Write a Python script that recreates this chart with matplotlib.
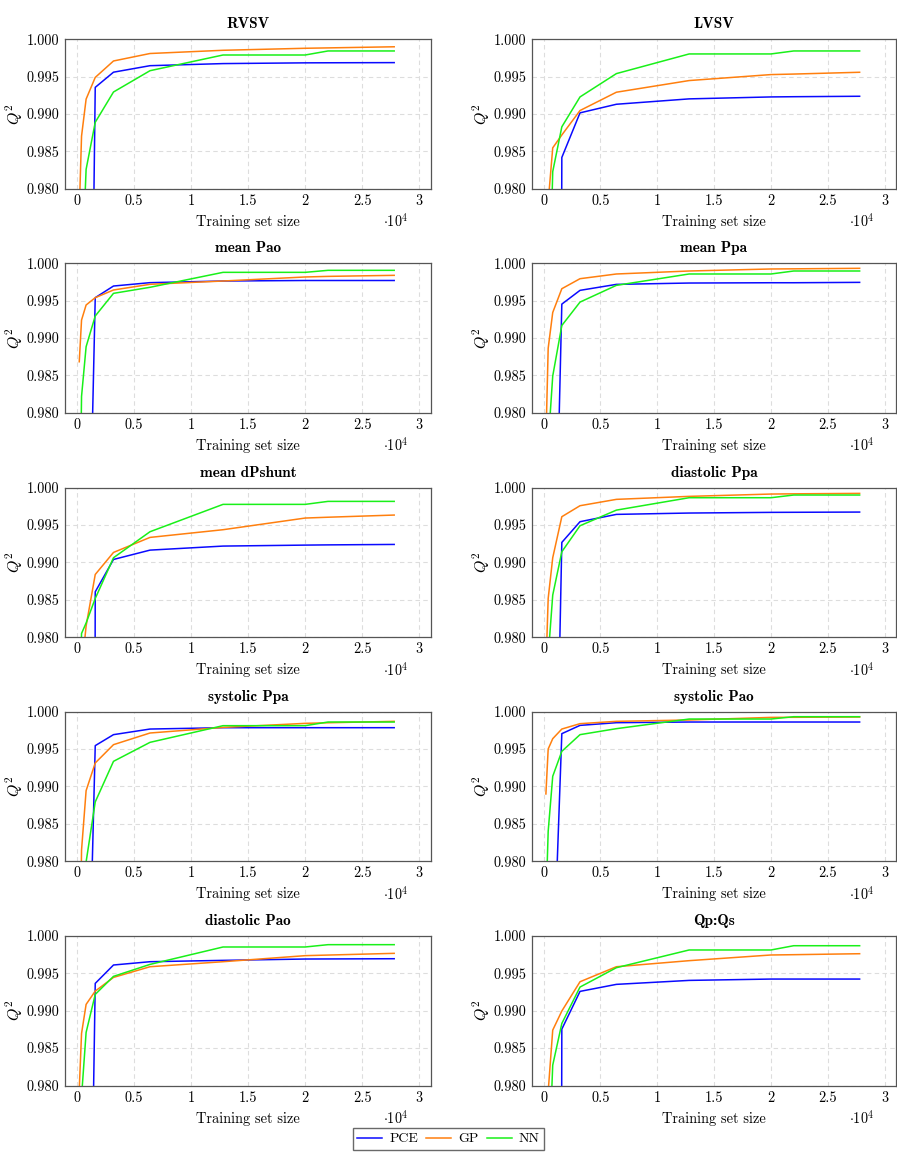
import matplotlib
matplotlib.use("Agg")
import matplotlib.pyplot as plt

plt.rcParams['font.family'] = ['cmr10', 'DejaVu Serif']
plt.rcParams['mathtext.fontset'] = 'cm'
plt.rcParams['axes.formatter.use_mathtext'] = True
plt.rcParams['font.size'] = 10.3

# training set sizes (shared by all panels)
train_sizes = [200, 400, 800, 1600, 3200, 6400, 12800, 20000, 22000, 27800]

titles = ["RVSV", "LVSV", "mean Pao", "mean Ppa", "mean dPshunt",
          "diastolic Ppa", "systolic Ppa", "systolic Pao", "diastolic Pao", "Qp:Qs"]

# Q^2 per panel, values below 0.980 are clipped by the axis
pce_q2 = [
    [0.50, 0.70, 0.895, 0.99357, 0.9956, 0.99647, 0.99675, 0.99685, 0.99686, 0.99688],
    [0.30, 0.40, 0.50, 0.98419, 0.99016, 0.99131, 0.99203, 0.99229, 0.99232, 0.99238],
    [0.60, 0.80, 0.941, 0.9954, 0.99696, 0.99741, 0.99763, 0.9977, 0.9977, 0.9977],
    [0.60, 0.80, 0.943, 0.99454, 0.99638, 0.99718, 0.99736, 0.9974, 0.9974, 0.99745],
    [0.20, 0.30, 0.40, 0.98607, 0.9904, 0.99165, 0.99219, 0.99232, 0.99235, 0.99241],
    [0.60, 0.80, 0.933, 0.99268, 0.99545, 0.99643, 0.99661, 0.9967, 0.99671, 0.99674],
    [0.60, 0.80, 0.947, 0.99546, 0.99693, 0.99768, 0.99786, 0.99786, 0.99786, 0.99786],
    [0.60, 0.80, 0.963, 0.99706, 0.99817, 0.99853, 0.99862, 0.99862, 0.99862, 0.99862],
    [0.60, 0.80, 0.916, 0.99366, 0.99612, 0.99656, 0.99674, 0.99692, 0.99693, 0.99696],
    [0.20, 0.30, 0.40, 0.98754, 0.99259, 0.99353, 0.99406, 0.99424, 0.99424, 0.99424],
]
gp_q2 = [
    [0.977, 0.98705, 0.9920, 0.9949, 0.9971, 0.9981, 0.99853, 0.9988, 0.99885, 0.9990],
    [0.95, 0.9782, 0.98548, 0.9872, 0.99047, 0.99292, 0.99448, 0.99528, 0.99535, 0.99559],
    [0.98683, 0.99241, 0.99442, 0.9954, 0.99643, 0.99719, 0.99763, 0.99817, 0.99825, 0.99839],
    [0.9763, 0.98863, 0.99342, 0.9966, 0.99794, 0.99857, 0.99897, 0.99924, 0.99926, 0.99933],
    [0.96, 0.9755, 0.9815, 0.98839, 0.99134, 0.99335, 0.99438, 0.99594, 0.99605, 0.99634],
    [0.97576, 0.98518, 0.99063, 0.99612, 0.99759, 0.99844, 0.99884, 0.99915, 0.99918, 0.99924],
    [0.96, 0.9815, 0.98944, 0.99314, 0.99559, 0.99715, 0.9979, 0.99844, 0.99852, 0.99871],
    [0.9890, 0.99501, 0.99639, 0.99768, 0.9984, 0.99871, 0.99889, 0.99924, 0.99925, 0.99929],
    [0.9795, 0.98696, 0.99085, 0.99263, 0.99446, 0.99589, 0.99656, 0.99737, 0.99745, 0.99768],
    [0.95, 0.97918, 0.98741, 0.98996, 0.99388, 0.99589, 0.9967, 0.99746, 0.9975, 0.99763],
]
nn_q2 = [
    [0.95, 0.9677, 0.9826, 0.9889, 0.99295, 0.9958, 0.9979, 0.9979, 0.99844, 0.99844],
    [0.93, 0.959, 0.9823, 0.98829, 0.99229, 0.99541, 0.99804, 0.99804, 0.99844, 0.99844],
    [0.96, 0.9822, 0.98884, 0.99295, 0.99598, 0.99679, 0.99879, 0.99879, 0.99906, 0.99906],
    [0.95, 0.9758, 0.98492, 0.99168, 0.99481, 0.99705, 0.99857, 0.99857, 0.99897, 0.99897],
    [0.97, 0.9805, 0.9819, 0.98518, 0.99063, 0.99411, 0.99777, 0.99777, 0.99817, 0.99817],
    [0.95, 0.9774, 0.98563, 0.99143, 0.99491, 0.9970, 0.99866, 0.99866, 0.99902, 0.99902],
    [0.93, 0.95, 0.9799, 0.98793, 0.99336, 0.9959, 0.99813, 0.99813, 0.99862, 0.99862],
    [0.974, 0.984, 0.99136, 0.9947, 0.99693, 0.99773, 0.99902, 0.99902, 0.99933, 0.99933],
    [0.95, 0.9785, 0.9871, 0.99219, 0.9946, 0.9962, 0.99853, 0.99853, 0.99884, 0.99884],
    [0.93, 0.96718, 0.98272, 0.9883, 0.99317, 0.99576, 0.99813, 0.99813, 0.9987, 0.9987],
]

methods = ["PCE", "GP", "NN"]
colors = ["#0a0aff", "#ff7f0e", "#19f019"]

fig = plt.figure(figsize=(8.97, 11.61), dpi=100)
W, H = 897.0, 1161.0

col_left = [65.0, 531.7]
col_width = [365.7, 364.3]
row_top = [39.3, 263.3, 487.7, 711.7, 936.0]
ax_h = 149.5

for i, title in enumerate(titles):
	r, c = divmod(i, 2)
	ax = fig.add_axes([col_left[c] / W, 1 - (row_top[r] + ax_h) / H,
	                   col_width[c] / W, ax_h / H])
	for series, color, name in zip([pce_q2, gp_q2, nn_q2], colors, methods):
		ax.plot(train_sizes, series[i], color=color, lw=1.1, label=name)

	ax.set_xlim(-1050, 31000)
	ax.set_ylim(0.980, 1.000)
	ax.set_xticks([0, 5000, 10000, 15000, 20000, 25000, 30000])
	ax.set_xticklabels(["0", "0.5", "1", "1.5", "2", "2.5", "3"])
	ax.set_yticks([0.980, 0.985, 0.990, 0.995, 1.000])
	ax.set_yticklabels(["0.980", "0.985", "0.990", "0.995", "1.000"])
	ax.tick_params(length=0, pad=4, labelsize=10.3)
	ax.grid(True, ls=(0, (4, 3)), color="#dddddd", lw=0.8)
	for s in ax.spines.values():
		s.set_color("#555555")
		s.set_linewidth(0.9)

	ax.set_title(title, family="cmb10", fontsize=11, pad=8)
	ax.set_xlabel("Training set size", fontsize=10.4, labelpad=5)
	ax.set_ylabel(r"$Q^2$", fontsize=11.5)
	ax.yaxis.set_label_coords(-0.11, 0.5)
	ax.text(0.905, -0.215, r"$\cdot 10^4$", transform=ax.transAxes,
	        ha="center", va="center", fontsize=10.3)

handles, labels = ax.get_legend_handles_labels()
fig.legend(handles, labels, loc="center", bbox_to_anchor=(448.5 / W, 1 - 1139 / H),
           ncol=3, frameon=True, fancybox=False, edgecolor="#444444",
           fontsize=10, handlelength=1.8, handletextpad=0.5, columnspacing=0.6,
           borderpad=0.3, borderaxespad=0)

fig.savefig("out.png", dpi=100)
